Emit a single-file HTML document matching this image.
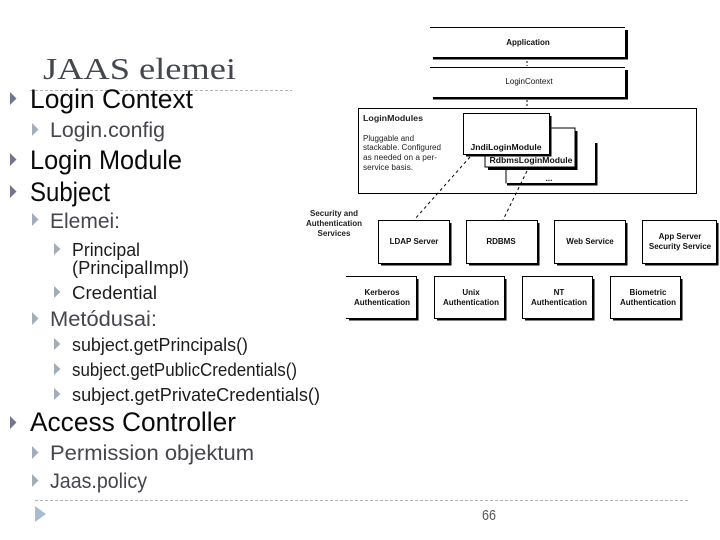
<!DOCTYPE html>
<html><head><meta charset="utf-8"><style>
html,body{margin:0;padding:0;background:#fff}
svg{display:block}
.t{font-family:"Liberation Sans",sans-serif}
.a{font-size:27px;fill:#0a0a0a}
.b{font-size:21px;fill:#45454d}
.c{font-size:18px;fill:#1c1c1c}
.d{font-family:"Liberation Sans",sans-serif;font-size:8px;font-weight:bold;fill:#111;text-anchor:middle}
.e{font-family:"Liberation Sans",sans-serif;font-size:8px;fill:#222}
</style></head><body>
<svg width="720" height="540" viewBox="0 0 720 540" xmlns="http://www.w3.org/2000/svg">
<rect width="720" height="540" fill="#fff"/>
<defs>
<polygon id="p1" points="10,0 16.5,6.5 10,13" fill="#72778f"/>
<polygon id="p2" points="32,0 38.5,6.5 32,13" fill="#a3adb9"/>
<polygon id="p3" points="54,0 60.5,6 54,12" fill="#a3adb9"/>
</defs>
<text x="43" y="79" font-family="Liberation Serif,serif" font-size="31" fill="#45474f" textLength="193" lengthAdjust="spacingAndGlyphs">JAAS elemei</text>
<line x1="30" y1="90.5" x2="292" y2="90.5" stroke="#b4b4b4" stroke-dasharray="3 2"/>
<line x1="35" y1="500.5" x2="690" y2="500.5" stroke="#b4b4b4" stroke-dasharray="3 2"/>

<use href="#p1" y="92"/><use href="#p2" y="123"/><use href="#p1" y="153"/><use href="#p1" y="185"/>
<use href="#p2" y="213"/><use href="#p3" y="243"/><use href="#p3" y="286"/><use href="#p2" y="312"/>
<use href="#p3" y="338"/><use href="#p3" y="363"/><use href="#p3" y="388"/>
<use href="#p1" y="416"/><use href="#p2" y="446"/><use href="#p2" y="474"/>
<polygon points="35,506 46,514 35,522" fill="#a8bccf"/>

<g class="t">
<text class="a" x="30" y="108" textLength="163" lengthAdjust="spacingAndGlyphs">Login Context</text>
<text class="b" x="50" y="137" textLength="115" lengthAdjust="spacingAndGlyphs">Login.config</text>
<text class="a" x="30" y="169" textLength="152" lengthAdjust="spacingAndGlyphs">Login Module</text>
<text class="a" x="30" y="201" textLength="80" lengthAdjust="spacingAndGlyphs">Subject</text>
<text class="b" x="50" y="228" textLength="70" lengthAdjust="spacingAndGlyphs">Elemei:</text>
<text class="c" x="72" y="256" textLength="68" lengthAdjust="spacingAndGlyphs">Principal</text>
<text class="c" x="72" y="274" textLength="117" lengthAdjust="spacingAndGlyphs">(PrincipalImpl)</text>
<text class="c" x="72" y="299" textLength="85" lengthAdjust="spacingAndGlyphs">Credential</text>
<text class="b" x="50" y="326" textLength="107" lengthAdjust="spacingAndGlyphs">Metódusai:</text>
<text class="c" x="72" y="351" textLength="176" lengthAdjust="spacingAndGlyphs">subject.getPrincipals()</text>
<text class="c" x="72" y="376" textLength="225" lengthAdjust="spacingAndGlyphs">subject.getPublicCredentials()</text>
<text class="c" x="72" y="401" textLength="248" lengthAdjust="spacingAndGlyphs">subject.getPrivateCredentials()</text>
<text class="a" x="30" y="431" textLength="206" lengthAdjust="spacingAndGlyphs">Access Controller</text>
<text class="b" x="50" y="460" textLength="204" lengthAdjust="spacingAndGlyphs">Permission objektum</text>
<text class="b" x="50" y="488" textLength="97" lengthAdjust="spacingAndGlyphs">Jaas.policy</text>
<text x="482" y="520" font-size="15" fill="#555" textLength="14" lengthAdjust="spacingAndGlyphs">66</text>
</g>

<!-- top boxes -->
<g fill="#000">
<rect x="430" y="27" width="195" height="1"/><rect x="625" y="30" width="3" height="29"/><rect x="433" y="57" width="195" height="2.5"/>
<rect x="430" y="67" width="195" height="1"/><rect x="625" y="70" width="3" height="29"/><rect x="433" y="97" width="195" height="2.5"/>
</g>
<text class="d" x="528" y="45">Application</text>
<text class="d" x="529" y="84" style="font-weight:normal">LoginContext</text>
<path d="M527 61V66M527 100V108" stroke="#000" stroke-dasharray="2 2"/>

<rect x="358.5" y="108.5" width="338" height="85" fill="#fff" stroke="#000"/>
<text class="e" x="363" y="121" font-weight="bold" textLength="60" lengthAdjust="spacingAndGlyphs">LoginModules</text>
<text class="e" x="363" y="141" textLength="51" lengthAdjust="spacingAndGlyphs">Pluggable and</text>
<text class="e" x="363" y="150" textLength="78" lengthAdjust="spacingAndGlyphs">stackable. Configured</text>
<text class="e" x="363" y="160" textLength="74" lengthAdjust="spacingAndGlyphs">as needed on a per-</text>
<text class="e" x="363" y="170" textLength="50" lengthAdjust="spacingAndGlyphs">service basis.</text>

<!-- stacked modules -->
<rect x="505.5" y="170" width="1" height="13.5" fill="#000"/>
<rect x="595" y="143" width="2.5" height="42.5"/>
<rect x="507" y="183" width="90.5" height="2.5"/>
<text class="d" x="549" y="181">...</text>
<rect x="485" y="128" width="90" height="39" fill="#fff" stroke="#000" stroke-width="1"/>
<rect x="575" y="131" width="2.5" height="39"/><rect x="488" y="167.5" width="89.5" height="2.5"/>
<text class="d" x="531" y="163" textLength="83" lengthAdjust="spacingAndGlyphs">RdbmsLoginModule</text>
<rect x="463.5" y="113.5" width="86" height="41" fill="#fff" stroke="#000"/>
<rect x="549.5" y="116" width="2" height="40.5"/><rect x="466" y="154.5" width="85.5" height="2"/>
<text class="d" x="506" y="150" textLength="71" lengthAdjust="spacingAndGlyphs">JndiLoginModule</text>

<path d="M470 157L414 220M527 171L503 220" fill="none" stroke="#000" stroke-dasharray="3 3"/>

<text class="e" x="334" y="216" text-anchor="middle" font-weight="bold">Security and</text>
<text class="e" x="334" y="226" text-anchor="middle" font-weight="bold">Authentication</text>
<text class="e" x="334" y="236" text-anchor="middle" font-weight="bold">Services</text>

<!-- services row 1 -->
<g fill="#fff" stroke="#000">
<rect x="378.5" y="220.5" width="71" height="43"/>
<rect x="466.5" y="220.5" width="71" height="43"/>
<rect x="554.5" y="220.5" width="71" height="43"/>
<rect x="642.5" y="220.5" width="74" height="43"/>
</g>
<g fill="#000">
<rect x="449.5" y="223" width="2" height="42"/><rect x="381" y="263.5" width="70.5" height="2"/>
<rect x="537.5" y="223" width="2" height="42"/><rect x="469" y="263.5" width="70.5" height="2"/>
<rect x="625.5" y="223" width="2" height="42"/><rect x="557" y="263.5" width="70.5" height="2"/>
<rect x="716.5" y="223" width="2" height="42"/><rect x="645" y="263.5" width="73.5" height="2"/>
</g>
<text class="d" x="414" y="244">LDAP Server</text>
<text class="d" x="501" y="244">RDBMS</text>
<text class="d" x="590" y="244">Web Service</text>
<text class="d" x="680" y="239">App Server</text>
<text class="d" x="680" y="249">Security Service</text>

<!-- services row 2 -->
<g fill="#fff" stroke="#000">
<path d="M346 276.5H416.5V318.5H346"/>
<rect x="434.5" y="276.5" width="70" height="42"/>
<rect x="522.5" y="276.5" width="70" height="42"/>
<rect x="610.5" y="276.5" width="70" height="42"/>
</g>
<g fill="#000">
<rect x="416.5" y="279" width="2" height="41"/><rect x="349" y="318.5" width="69.5" height="2"/>
<rect x="504.5" y="279" width="2" height="41"/><rect x="437" y="318.5" width="69.5" height="2"/>
<rect x="592.5" y="279" width="2" height="41"/><rect x="525" y="318.5" width="69.5" height="2"/>
<rect x="680.5" y="279" width="2" height="41"/><rect x="613" y="318.5" width="69.5" height="2"/>
</g>
<text class="d" x="382" y="295">Kerberos</text>
<text class="d" x="382" y="305">Authentication</text>
<text class="d" x="471" y="295">Unix</text>
<text class="d" x="471" y="305">Authentication</text>
<text class="d" x="559" y="295">NT</text>
<text class="d" x="559" y="305">Authentication</text>
<text class="d" x="648" y="295">Biometric</text>
<text class="d" x="648" y="305">Authentication</text>
</svg>
</body></html>
